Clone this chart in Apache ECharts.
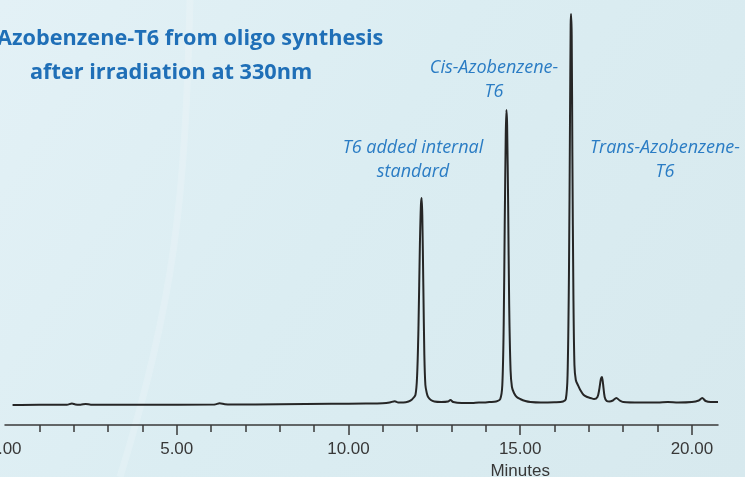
<!DOCTYPE html>
<html>
<head>
<meta charset="utf-8">
<title>Azobenzene-T6 HPLC trace</title>
<script src="https://cdn.jsdelivr.net/npm/echarts@6/dist/echarts.min.js"></script>
<style>
  html, body { margin: 0; padding: 0; }
  #chart { width: 745px; height: 477px; }
</style>
</head>
<body>
<div id="chart"></div>
<script>
// Retention time (minutes) of each sampled point of the chromatogram
const retentionTime = [
  0.22, 1.0, 1.8, 1.95, 2.05, 2.2, 2.35, 2.5, 4.0, 6.1, 6.25, 6.4, 6.6, 8.0, 9.5,
  10.5, 11.0, 11.2, 11.35, 11.45, 11.6, 11.75, 11.85, 11.95, 12.0, 12.04, 12.08,
  12.11, 12.13, 12.15, 12.18, 12.21, 12.24, 12.28, 12.32, 12.4, 12.5, 12.7, 12.9,
  12.97, 13.05, 13.3, 13.6, 13.8, 13.95, 14.1, 14.3, 14.42, 14.48, 14.52, 14.55,
  14.58, 14.6, 14.62, 14.65, 14.68, 14.72, 14.76, 14.82, 14.9, 15.0, 15.15, 15.3,
  15.6, 16.0, 16.25, 16.33, 16.38, 16.42, 16.45, 16.47, 16.48, 16.5, 16.52, 16.55,
  16.58, 16.62, 16.68, 16.75, 16.85, 16.95, 17.05, 17.15, 17.25, 17.3, 17.35, 17.38,
  17.41, 17.46, 17.52, 17.6, 17.7, 17.8, 17.9, 18.0, 18.5, 19.0, 19.3, 19.6, 20.0,
  20.2, 20.3, 20.4, 20.55, 20.76
];

// Detector response (arbitrary units) at each retention time
const detectorSignal = [
  0, 0.3, 0.3, 1.5, 0.5, 0.3, 1.0, 0.3, 0.3, 0.5, 1.8, 0.8, 0.5, 0.8, 1.2,
  1.5, 1.8, 2.5, 3.8, 2.5, 2.5, 3.5, 5.5, 10, 30, 80, 160,
  200, 207, 190, 120, 50, 20, 12, 8, 5, 3.5, 3, 3.5,
  5, 3, 2, 2, 2.5, 2.5, 3, 3.5, 6, 20, 80, 180,
  270, 295, 280, 200, 100, 35, 18, 12, 8, 6, 4, 3,
  2.5, 2.8, 3.5, 6, 30, 130, 280, 380, 391, 370, 250, 110,
  40, 25, 20, 15, 10, 8, 7, 6, 8, 15, 26, 28,
  22, 8, 4, 3.5, 4.5, 7, 4.5, 3, 2.5, 2.5, 3, 2.5, 3,
  4.5, 7, 4, 3, 3
];

// Axis ticks and labels (minutes)
const labelMinutes = [0, 5, 10, 15, 20];
const majorTickMinutes = [5, 10, 15, 20];
const minorTickMinutes = [1, 2, 3, 4, 6, 7, 8, 9, 11, 12, 13, 14, 16, 17, 18, 19];

// Peak annotations
const peakNotes = [
  { lines: ['T6 added internal', 'standard'], x: 413, y: 148 },
  { lines: ['Cis-Azobenzene-', 'T6'], x: 494, y: 68 },
  { lines: ['Trans-Azobenzene-', 'T6'], x: 665, y: 148 }
];
const titleLines = ['Azobenzene-T6 from oligo synthesis', 'after irradiation at 330nm'];

const seriesData = retentionTime.map((t, i) => [t, detectorSignal[i]]);

const chart = echarts.init(document.getElementById('chart'), null, { renderer: 'canvas' });

const blue = '#1f6fb7';
const noteBlue = '#2a7cc4';
const axisFont = '"Liberation Sans", Arial, sans-serif';

const graphics = [
  {
    type: 'rect', z: -10, silent: true,
    shape: { x: 0, y: 0, width: 745, height: 477 },
    style: {
      fill: new echarts.graphic.LinearGradient(0, 0, 1, 1, [
        { offset: 0, color: '#e3f1f6' },
        { offset: 0.45, color: '#dbedf2' },
        { offset: 1, color: '#d7e9ee' }
      ])
    }
  },
  {
    type: 'bezierCurve', z: -9, silent: true,
    shape: { x1: 190, y1: 0, cpx1: 185, cpy1: 200, cpx2: 175, cpy2: 300, x2: 120, y2: 477 },
    style: { stroke: 'rgba(255,255,255,0.16)', lineWidth: 7, fill: null, shadowBlur: 10, shadowColor: 'rgba(255,255,255,0.4)' }
  },
  {
    type: 'text', left: -3, top: 28,
    style: { text: titleLines[0], font: 'bold 21.7px "Open Sans"', fill: blue }
  },
  {
    type: 'text', left: 30, top: 62,
    style: { text: titleLines[1], font: 'bold 21.7px "Open Sans"', fill: blue }
  }
];

peakNotes.forEach(n => {
  graphics.push({
    type: 'text', x: n.x, y: n.y - 12,
    style: {
      text: n.lines.join('\n'), font: 'italic 18px "Open Sans"', fill: noteBlue,
      align: 'center', verticalAlign: 'top', lineHeight: 24
    }
  });
});

const option = {
  animation: false,
  grid: { left: 5, right: 27, top: 5, bottom: 72, containLabel: false, outerBoundsMode: 'none' },
  xAxis: [
    {
      type: 'value', min: 0, max: 20.76, offset: 20,
      axisLine: { show: true, onZero: false, lineStyle: { color: '#3a3a3a', width: 1.5 } },
      axisTick: { show: true, customValues: majorTickMinutes, length: 10, lineStyle: { color: '#3a3a3a', width: 1.5 } },
      axisLabel: {
        show: true, customValues: labelMinutes, margin: 16,
        formatter: v => v.toFixed(2),
        fontFamily: axisFont, fontSize: 17, color: '#383838'
      },
      splitLine: { show: false }
    },
    {
      type: 'value', min: 0, max: 20.76, offset: 20, position: 'bottom',
      axisLine: { show: false, onZero: false },
      axisTick: { show: true, customValues: minorTickMinutes, length: 7, lineStyle: { color: '#3a3a3a', width: 1.5 } },
      axisLabel: { show: false },
      splitLine: { show: false }
    }
  ],
  yAxis: { type: 'value', min: 0, max: 400, show: false },
  series: [{
    type: 'line', data: seriesData, showSymbol: false, smooth: 0.3,
    lineStyle: { color: '#262626', width: 2 },
    xAxisIndex: 0
  }],
  graphic: graphics
};

chart.setOption(option);

// Axis title sits under the 15-minute mark
const px = chart.convertToPixel({ xAxisIndex: 0 }, 15);
chart.setOption({
  graphic: graphics.concat([{
    type: 'text', x: px, y: 463,
    style: { text: 'Minutes', font: '17px ' + axisFont, fill: '#383838', align: 'center', verticalAlign: 'top' }
  }])
});
</script>
</body>
</html>
